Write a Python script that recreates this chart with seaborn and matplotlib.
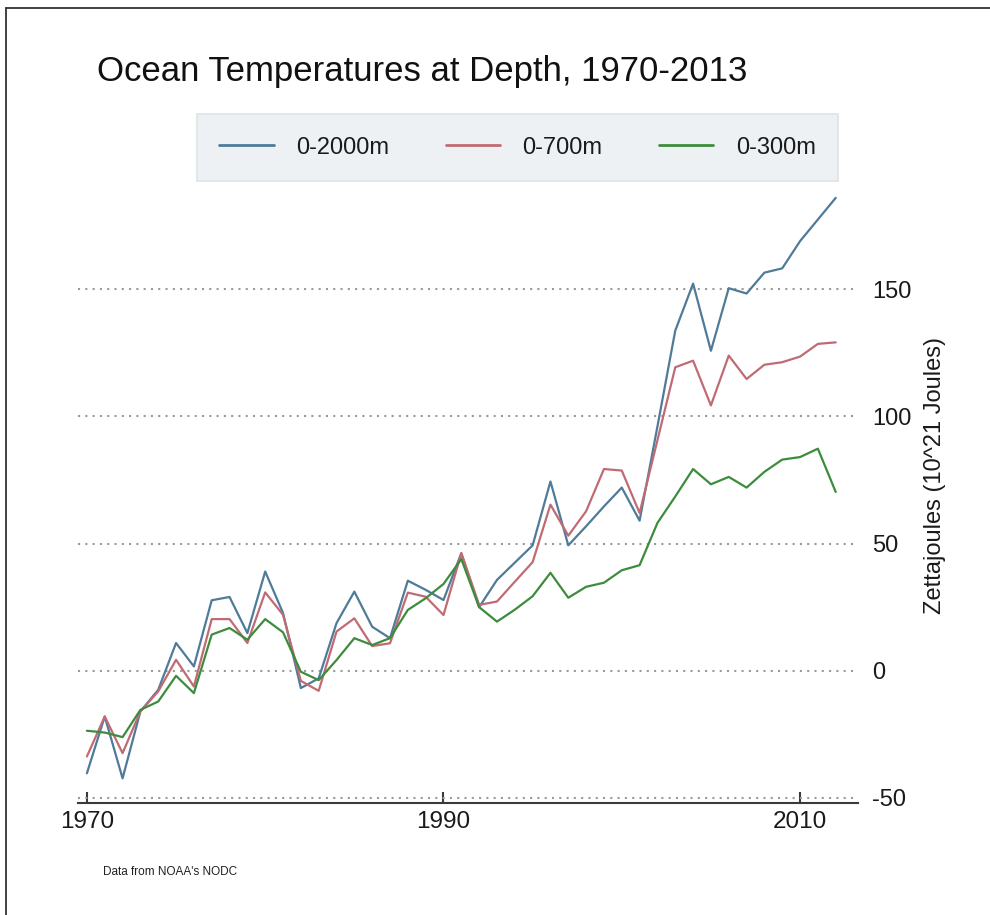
import numpy as np
import pandas as pd
import matplotlib
matplotlib.use("Agg")
import matplotlib.pyplot as plt
from matplotlib.lines import Line2D
import seaborn as sns

years = list(range(1970, 2013))

heat_0_2000 = [-40.3, -18, -42.3, -16, -7.5, 10.9, 1.7, 27.7, 29, 14.8,
               39, 22.7, -6.8, -3, 18.7, 31.1, 17.3, 12.8, 35.4, 31.8,
               27.8, 46.2, 25, 35.7, 42.5, 49.3, 74.4, 49.3, 56.8, 64.6,
               72, 59, 96, 133.7, 152.2, 125.8, 150.4, 148.3, 156.5, 158.2,
               168.9, 177.4, 185.9]
heat_0_700 = [-33.7, -18, -32.4, -16, -8.1, 4.3, -6.2, 20.3, 20.3, 10.9,
              30.8, 22, -4, -7.9, 15.4, 20.6, 9.7, 10.8, 30.7, 29.1,
              21.9, 46.2, 25.9, 27.2, 35, 42.7, 65.3, 53.1, 62.7, 79.3,
              78.7, 62, 90.6, 119.3, 121.9, 104.3, 123.9, 114.7, 120.3, 121.3,
              123.5, 128.5, 129.1]
heat_0_300 = [-23.6, -24.3, -26.1, -15.4, -12.1, -2, -8.8, 14.2, 16.8, 12.2,
              20.3, 15.1, -0.4, -3.7, 4.2, 12.8, 10.1, 12.8, 23.9, 28.5,
              34.1, 43.9, 25, 19.3, 24, 29.3, 38.5, 28.7, 33, 34.6,
              39.5, 41.5, 58.1, 68.5, 79.3, 73.3, 76.2, 72, 78.2, 83,
              84, 87.3, 70.3]

series_names = ["0-2000m", "0-700m", "0-300m"]
series_colors = ["#4f7b99", "#c06b74", "#3d8c3d"]
x_ticks = [1970, 1990, 2010]
y_ticks = [-50, 0, 50, 100, 150]

df = pd.DataFrame({
    "year": years * 3,
    "value": heat_0_2000 + heat_0_700 + heat_0_300,
    "series": [series_names[0]] * len(years) + [series_names[1]] * len(years)
              + [series_names[2]] * len(years),
})

sns.set_theme(style="white")
plt.rcParams["font.family"] = ["Liberation Sans", "DejaVu Sans"]

W, H = 990, 915
fig = plt.figure(figsize=(W / 100, H / 100), dpi=100)
ax_left, ax_right, ax_top, ax_bottom = 78, 858, 190, 803
ax = fig.add_axes([ax_left / W, 1 - ax_bottom / H,
                   (ax_right - ax_left) / W, (ax_bottom - ax_top) / H])

sns.lineplot(data=df, x="year", y="value", hue="series",
             hue_order=series_names, palette=series_colors,
             linewidth=1.6, ax=ax, legend=False)

ax.set_xlim(1969.5, 2013.25)
ax.set_ylim(-52, 189)
ax.set_xticks(x_ticks)
ax.set_xticklabels([str(t) for t in x_ticks])
ax.set_yticks(y_ticks)
ax.set_yticklabels([str(t) for t in y_ticks])
ax.set_xlabel("")
ax.set_ylabel("")

ax.yaxis.tick_right()
ax.yaxis.grid(True, linestyle=(0, (1, 2.5)), color="#9a9a9a", linewidth=1.5)
ax.xaxis.grid(False)
ax.set_axisbelow(True)

for s in ["top", "left", "right"]:
    ax.spines[s].set_visible(False)
ax.spines["bottom"].set_color("#3a3a3a")
ax.spines["bottom"].set_linewidth(1.5)

ax.tick_params(axis="x", direction="in", length=8, width=1.5, color="#3a3a3a",
               labelsize=17.5, pad=6, labelcolor="#1a1a1a", bottom=True)
ax.tick_params(axis="y", length=0, labelsize=17, pad=10, labelcolor="#1a1a1a",
               right=False, labelright=True, labelleft=False)

# legend
handles = [Line2D([0], [0], color=c, lw=2) for c in series_colors]
leg = fig.legend(handles, series_names, loc="center",
                 bbox_to_anchor=(517.5 / W, 1 - 147.5 / H), ncol=3,
                 fontsize=17, frameon=True, fancybox=False,
                 handlelength=2.3, handletextpad=0.95, columnspacing=2.4,
                 borderpad=0.95)
frame = leg.get_frame()
frame.set_facecolor("#eef1f3")
frame.set_edgecolor("#dde3e6")
frame.set_linewidth(1.2)
frame.set_alpha(1)
for t in leg.get_texts():
    t.set_color("#1a1a1a")

fig.text(97 / W, 1 - 81 / H, "Ocean Temperatures at Depth, 1970-2013",
         fontsize=25, color="#111111", ha="left", va="baseline")
fig.text(935 / W, 1 - 476 / H, "Zettajoules (10^21 Joules)", rotation=90,
         fontsize=17, color="#1a1a1a", ha="center", va="center")
fig.text(103 / W, 1 - 872 / H, "Data from NOAA's NODC", fontsize=8.5,
         color="#222222", ha="left", va="center")

# outer frame (top and left edges)
fig.add_artist(Line2D([6 / W, 6 / W], [0, 1 - 8 / H], transform=fig.transFigure,
                      color="#333333", lw=1.3))
fig.add_artist(Line2D([6 / W, 1], [1 - 8 / H, 1 - 8 / H], transform=fig.transFigure,
                      color="#333333", lw=1.3))

fig.savefig("out.png", dpi=100, facecolor="white")
